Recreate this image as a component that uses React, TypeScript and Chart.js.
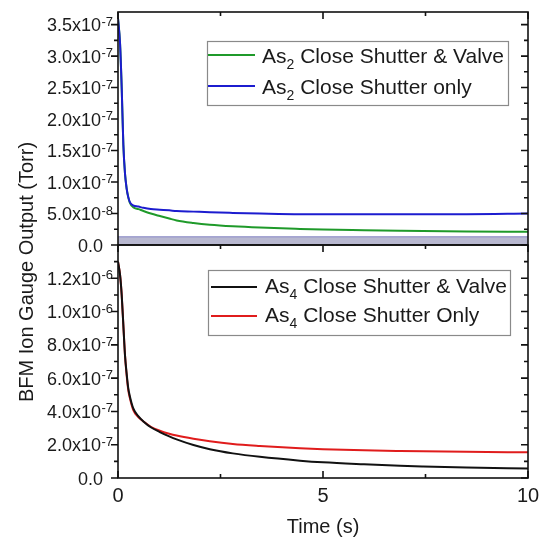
import React, { useEffect, useRef } from "react";
import { Chart, registerables } from "chart.js";

Chart.register(...registerables);

const FONT = '"Liberation Sans", Arial, Helvetica, sans-serif';

// ---- data ----
const timeS = [0, 0.05, 0.09, 0.13, 0.17, 0.21, 0.25, 0.29, 0.37, 0.5, 0.62, 0.8, 1.02, 1.25, 1.43, 1.84, 2.24, 2.8, 3.46, 4.44, 5, 6, 6.88, 7.44, 8.5, 10];

const as2ShutterOnly = [3.6e-7, 3.2e-7, 2.5e-7, 1.6e-7, 1.14e-7, 0.9e-7, 0.76e-7, 0.68e-7, 0.63e-7, 0.61e-7, 0.59e-7, 0.57e-7, 0.56e-7, 0.55e-7, 0.54e-7, 0.53e-7, 0.52e-7, 0.51e-7, 0.5e-7, 0.49e-7, 0.49e-7, 0.49e-7, 0.49e-7, 0.49e-7, 0.49e-7, 0.5e-7];
const as2ShutterValve = [3.6e-7, 3.2e-7, 2.5e-7, 1.6e-7, 1.14e-7, 0.9e-7, 0.76e-7, 0.67e-7, 0.6e-7, 0.57e-7, 0.54e-7, 0.5e-7, 0.46e-7, 0.42e-7, 0.39e-7, 0.35e-7, 0.322e-7, 0.297e-7, 0.277e-7, 0.256e-7, 0.246e-7, 0.235e-7, 0.226e-7, 0.221e-7, 0.215e-7, 0.21e-7];
const as4ShutterValve = [1.3e-6, 1.22e-6, 1.1e-6, 0.92e-6, 0.74e-6, 0.63e-6, 0.54e-6, 0.49e-6, 0.42e-6, 0.37e-6, 0.34e-6, 0.305e-6, 0.276e-6, 0.25e-6, 0.232e-6, 0.198e-6, 0.173e-6, 0.148e-6, 0.127e-6, 0.104e-6, 0.094e-6, 0.082e-6, 0.073e-6, 0.069e-6, 0.063e-6, 0.057e-6];
const as4ShutterOnly = [1.3e-6, 1.22e-6, 1.1e-6, 0.92e-6, 0.74e-6, 0.62e-6, 0.53e-6, 0.48e-6, 0.41e-6, 0.365e-6, 0.34e-6, 0.308e-6, 0.284e-6, 0.266e-6, 0.255e-6, 0.236e-6, 0.221e-6, 0.205e-6, 0.193e-6, 0.179e-6, 0.173e-6, 0.166e-6, 0.162e-6, 0.16e-6, 0.157e-6, 0.154e-6];

const bandLevel = 1.3e-8;
const bandTimes = [0, 10];

const xMajorTicks = [0, 5, 10];
const xMinorTicks = [2.5, 7.5];
const xTickLabels = ["0", "5", "10"];

const topYMajor = [0, 5e-8, 1e-7, 1.5e-7, 2e-7, 2.5e-7, 3e-7, 3.5e-7];
const topYMinor = [2.5e-8, 7.5e-8, 1.25e-7, 1.75e-7, 2.25e-7, 2.75e-7, 3.25e-7];
const botYMajor = [0, 2e-7, 4e-7, 6e-7, 8e-7, 1e-6, 1.2e-6];
const botYMinor = [1e-7, 3e-7, 5e-7, 7e-7, 9e-7, 1.1e-6, 1.3e-6];

const topYMax = 3.7e-7;
const botYMax = 1.4e-6;

const as2ValveLabel = ["As", "2", " Close Shutter & Valve"];
const as2OnlyLabel = ["As", "2", " Close Shutter only"];
const as4ValveLabel = ["As", "4", " Close Shutter & Valve"];
const as4OnlyLabel = ["As", "4", " Close Shutter Only"];
const xTitle = "Time (s)";
const yTitle = "BFM Ion Gauge Output (Torr)";

// ---- colours ----
const GREEN = "#1f9a2a";
const BLUE = "#1c1ccf";
const BLACK = "#111111";
const RED = "#e01c1c";
const TEXT = "#1a1a1a";

const pts = (arr: number[]) => timeS.map((t, i) => ({ x: t, y: arr[i] }));

type LegendRow = { color: string; label: string[]; y: number; x0: number; x1: number; tx: number; base: number };
type PanelCfg = {
  yMajor: number[];
  yMinor: number[];
  topTicks: boolean;
  bottomTicks: boolean;
  xLabels: boolean;
  yTitle: boolean;
  legendBox: [number, number, number, number];
  legendRows: LegendRow[];
};

function drawSci(ctx: CanvasRenderingContext2D, v: number, xRight: number, y: number) {
  ctx.fillStyle = TEXT;
  ctx.textAlign = "right";
  ctx.textBaseline = "alphabetic";
  if (v === 0) {
    ctx.font = `18px ${FONT}`;
    ctx.fillText("0.0", xRight - 10, y + 6.5);
    return;
  }
  const e = Math.floor(Math.log10(v) + 1e-9);
  const m = (v / Math.pow(10, e)).toFixed(1);
  const es = String(e);
  ctx.font = `13px ${FONT}`;
  ctx.fillText(es, xRight, y + 1);
  const ew = ctx.measureText(es).width;
  ctx.font = `18px ${FONT}`;
  ctx.fillText(m + "x10", xRight - ew - 0.5, y + 6.5);
}

function makePlugin(cfg: PanelCfg) {
  return {
    id: "framePanel",
    afterDraw(chart: any) {
      const ctx: CanvasRenderingContext2D = chart.ctx;
      const a = chart.chartArea;
      const xs = chart.scales.x;
      const ys = chart.scales.y;
      ctx.save();
      // frame
      ctx.strokeStyle = "#111";
      ctx.lineWidth = 1.6;
      ctx.strokeRect(a.left, a.top, a.right - a.left, a.bottom - a.top);
      // ticks
      ctx.beginPath();
      const yt = (vals: number[], len: number) => {
        vals.forEach((v) => {
          const y = ys.getPixelForValue(v);
          ctx.moveTo(a.left - len, y);
          ctx.lineTo(a.left, y);
          ctx.moveTo(a.right, y);
          ctx.lineTo(a.right - len, y);
        });
      };
      yt(cfg.yMajor, 7);
      yt(cfg.yMinor, 4);
      const xt = (vals: number[], len: number) => {
        vals.forEach((v) => {
          const x = xs.getPixelForValue(v);
          if (cfg.topTicks) {
            ctx.moveTo(x, a.top);
            ctx.lineTo(x, a.top + len);
          }
          if (cfg.bottomTicks) {
            ctx.moveTo(x, a.bottom);
            ctx.lineTo(x, a.bottom - len);
          }
        });
      };
      xt(xMajorTicks, 7);
      xt(xMinorTicks, 4);
      ctx.stroke();
      // y labels
      cfg.yMajor.forEach((v) => drawSci(ctx, v, 113, ys.getPixelForValue(v)));
      // x labels + title
      if (cfg.xLabels) {
        ctx.fillStyle = TEXT;
        ctx.font = `20px ${FONT}`;
        ctx.textAlign = "center";
        ctx.textBaseline = "alphabetic";
        xMajorTicks.forEach((v, i) => ctx.fillText(xTickLabels[i], xs.getPixelForValue(v), 502));
        ctx.fillText(xTitle, (a.left + a.right) / 2, 533);
      }
      if (cfg.yTitle) {
        ctx.save();
        ctx.translate(33, 272);
        ctx.rotate(-Math.PI / 2);
        ctx.fillStyle = TEXT;
        ctx.font = `20px ${FONT}`;
        ctx.textAlign = "center";
        ctx.textBaseline = "alphabetic";
        ctx.fillText(yTitle, 0, 0);
        ctx.restore();
      }
      // legend
      const [l, t, r, b] = cfg.legendBox;
      ctx.fillStyle = "#fff";
      ctx.fillRect(l, t, r - l, b - t);
      ctx.strokeStyle = "#8a8a8a";
      ctx.lineWidth = 1.2;
      ctx.strokeRect(l + 0.5, t + 0.5, r - l, b - t);
      cfg.legendRows.forEach((row) => {
        ctx.strokeStyle = row.color;
        ctx.lineWidth = 2;
        ctx.beginPath();
        ctx.moveTo(row.x0, row.y);
        ctx.lineTo(row.x1, row.y);
        ctx.stroke();
        ctx.fillStyle = TEXT;
        ctx.textAlign = "left";
        ctx.textBaseline = "alphabetic";
        let x = row.tx;
        ctx.font = `21px ${FONT}`;
        ctx.fillText(row.label[0], x, row.base);
        x += ctx.measureText(row.label[0]).width;
        ctx.font = `14px ${FONT}`;
        ctx.fillText(row.label[1], x, row.base + 6);
        x += ctx.measureText(row.label[1]).width;
        ctx.font = `21px ${FONT}`;
        ctx.fillText(row.label[2], x, row.base);
      });
      ctx.restore();
    },
  };
}

function makeChart(canvas: HTMLCanvasElement, datasets: any[], yMax: number, padTop: number, padBottom: number, cfg: PanelCfg) {
  return new Chart(canvas, {
    type: "line",
    data: { datasets },
    options: {
      animation: false,
      responsive: false,
      maintainAspectRatio: false,
      layout: { padding: { left: 0, right: 15, top: padTop, bottom: padBottom } },
      plugins: { legend: { display: false }, tooltip: { enabled: false } },
      elements: { point: { radius: 0 }, line: { cubicInterpolationMode: "monotone" } },
      scales: {
        x: { type: "linear", min: 0, max: 10, display: false },
        y: {
          type: "linear",
          min: 0,
          max: yMax,
          grid: { display: false },
          border: { display: false },
          ticks: { display: false },
          afterFit: (s: any) => {
            s.width = 118;
          },
        },
      },
    } as any,
    plugins: [makePlugin(cfg)],
  });
}

export default function App() {
  const topRef = useRef<HTMLCanvasElement>(null);
  const botRef = useRef<HTMLCanvasElement>(null);

  useEffect(() => {
    const top = makeChart(
      topRef.current!,
      [
        { data: pts(as2ShutterOnly), borderColor: BLUE, borderWidth: 2, fill: false },
        { data: pts(as2ShutterValve), borderColor: GREEN, borderWidth: 2, fill: false },
        {
          data: bandTimes.map((t) => ({ x: t, y: bandLevel })),
          borderColor: "#8585c4",
          borderWidth: 1,
          backgroundColor: "#b8b8d0",
          fill: "origin",
        },
      ],
      topYMax,
      12,
      538 - 245,
      {
        yMajor: topYMajor,
        yMinor: topYMinor,
        topTicks: true,
        bottomTicks: false,
        xLabels: false,
        yTitle: false,
        legendBox: [207, 41, 508, 105],
        legendRows: [
          { color: GREEN, label: as2ValveLabel, y: 55, x0: 208, x1: 255, tx: 262, base: 63 },
          { color: BLUE, label: as2OnlyLabel, y: 86, x0: 208, x1: 255, tx: 262, base: 94 },
        ],
      }
    );
    const bot = makeChart(
      botRef.current!,
      [
        { data: pts(as4ShutterValve), borderColor: BLACK, borderWidth: 2, fill: false },
        { data: pts(as4ShutterOnly), borderColor: RED, borderWidth: 2, fill: false },
      ],
      botYMax,
      245,
      538 - 478,
      {
        yMajor: botYMajor,
        yMinor: botYMinor,
        topTicks: true,
        bottomTicks: true,
        xLabels: true,
        yTitle: true,
        legendBox: [208, 270, 510, 335],
        legendRows: [
          { color: BLACK, label: as4ValveLabel, y: 287, x0: 211, x1: 257, tx: 265, base: 293 },
          { color: RED, label: as4OnlyLabel, y: 316, x0: 211, x1: 257, tx: 265, base: 322 },
        ],
      }
    );
    return () => {
      top.destroy();
      bot.destroy();
    };
  }, []);

  const cs: React.CSSProperties = { position: "absolute", left: 0, top: 0, width: 543, height: 538 };
  return (
    <div style={{ position: "fixed", left: 0, top: 0, width: 543, height: 538, background: "#fff" }}>
      <canvas ref={topRef} width={543} height={538} style={cs} />
      <canvas ref={botRef} width={543} height={538} style={cs} />
    </div>
  );
}
